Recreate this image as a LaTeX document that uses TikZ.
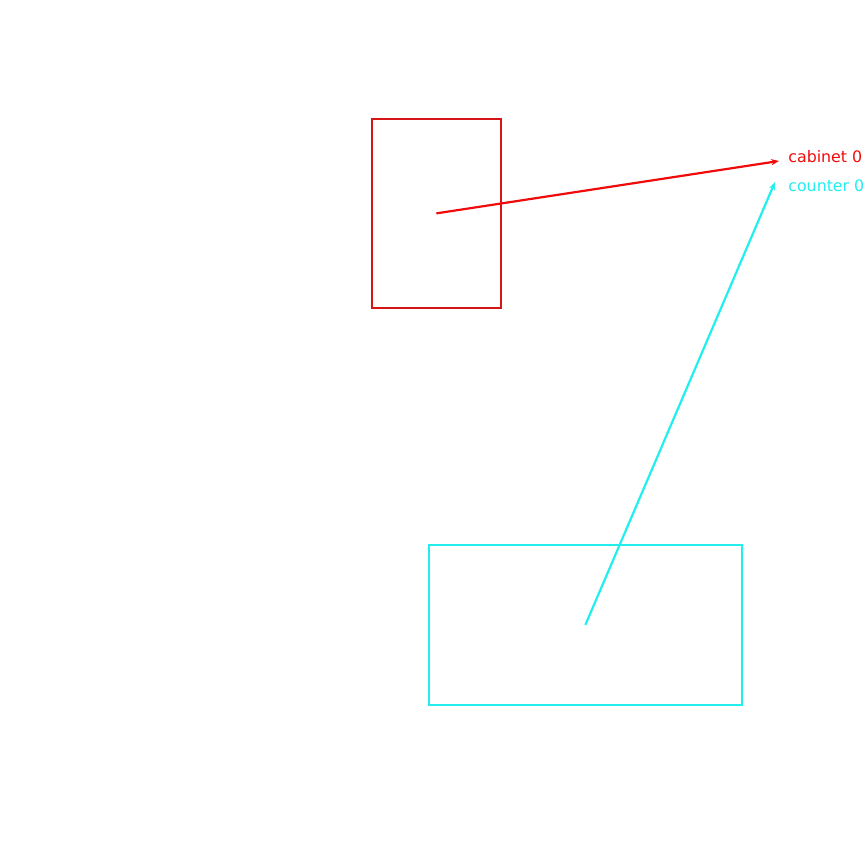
\documentclass[tikz,border=0pt]{standalone}
\usepackage{fontspec}
\setmainfont{DejaVu Sans}
\usetikzlibrary{arrows.meta}
\definecolor{cabred}{RGB}{214,22,22}
\definecolor{arrred}{RGB}{240,10,10}
\definecolor{cntcyan}{RGB}{34,238,238}
\tikzset{
  box/.style={draw, line width=1pt, inner sep=0pt, anchor=north west},
  conn/.style={line width=1.25pt, -{Stealth[length=4.5pt,width=3.5pt]}},
  lab/.style={anchor=west, inner sep=0pt, font=\fontsize{9pt}{10pt}\selectfont}
}
\begin{document}
\begin{tikzpicture}[x=0.02cm,y=-0.02cm]
\useasboundingbox (0,0) rectangle (864,864);
\node[box, draw=cabred, minimum width=129*0.02cm, minimum height=189*0.02cm] (cab) at (371,118) {};
\node[box, draw=cntcyan, minimum width=313*0.02cm, minimum height=160*0.02cm] (cnt) at (428,544) {};
\node[lab, text=arrred] (cablab) at (788,157) {cabinet 0};
\node[lab, text=cntcyan] (cntlab) at (788,186) {counter 0};
\coordinate (cabend) at (779,161);
\coordinate (cntend) at (775,182);
\draw[conn, draw=arrred] (cab.center) -- (cabend);
\draw[conn, draw=cntcyan] (cnt.center) -- (cntend);
\end{tikzpicture}
\end{document}
